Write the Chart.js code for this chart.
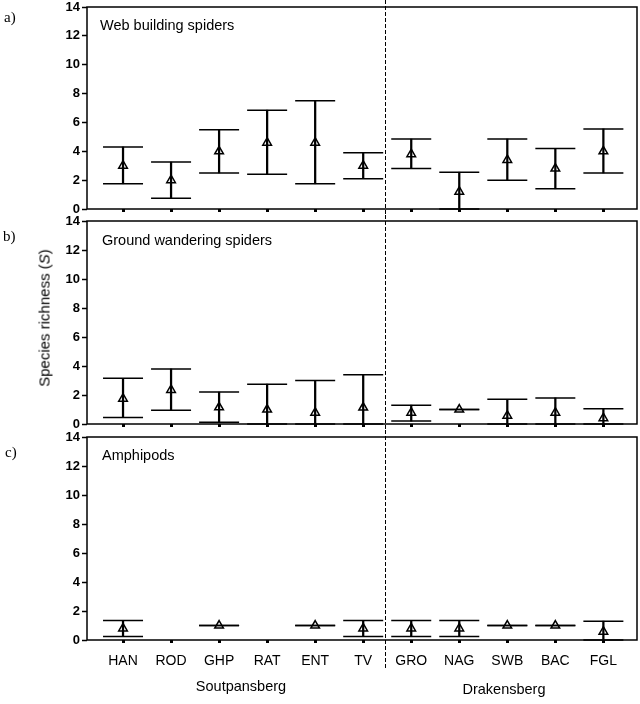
<!DOCTYPE html>
<html><head><meta charset="utf-8">
<script src="https://cdn.jsdelivr.net/npm/chart.js@4.4.1/dist/chart.umd.min.js"></script>
<style>
html,body{margin:0;padding:0;background:#fff;}
#wrap{position:relative;width:640px;height:704px;overflow:hidden;font-family:"Liberation Sans",Arial,sans-serif;color:#000;}
.cv{position:absolute;left:0;width:640px;}
.lbl{position:absolute;white-space:nowrap;line-height:1;}
.ser{font-family:"Liberation Serif","Times New Roman",serif;font-size:15px;}
.ttl{font-size:14.5px;}
</style></head><body>
<div id="wrap">
  <div class="cv" style="top:0;height:215px"><canvas id="c1" width="640" height="215"></canvas></div>
  <div class="cv" style="top:215px;height:215px"><canvas id="c2" width="640" height="215"></canvas></div>
  <div class="cv" style="top:430px;height:274px"><canvas id="c3" width="640" height="274"></canvas></div>
  <div class="lbl ser" style="left:4px;top:9.5px">a)</div>
  <div class="lbl ser" style="left:3px;top:228.5px">b)</div>
  <div class="lbl ser" style="left:5px;top:444.5px">c)</div>
  <div class="lbl ttl" style="left:100px;top:17.5px">Web building spiders</div>
  <div class="lbl ttl" style="left:102px;top:232.5px">Ground wandering spiders</div>
  <div class="lbl ttl" style="left:102px;top:447.5px">Amphipods</div>
  <div class="lbl" style="left:44px;top:318px;font-size:15px;transform:translate(-50%,-50%) rotate(-90deg);">Species richness (<i>S</i>)</div>
  <div class="lbl ttl" style="left:241px;top:686px;transform:translate(-50%,-50%);">Soutpansberg</div>
  <div class="lbl ttl" style="left:504px;top:689px;transform:translate(-50%,-50%);">Drakensberg</div>
</div>
<script>
const categories = ['HAN','ROD','GHP','RAT','ENT','TV','GRO','NAG','SWB','BAC','FGL'];
const yTickValues = [0, 2, 4, 6, 8, 10, 12, 14];

const webMean  = [3.0, 2.0, 4.0, 4.6, 4.6, 3.0, 3.8, 1.2, 3.4, 2.8, 4.0];
const webUpper = [4.3, 3.25, 5.5, 6.85, 7.5, 3.9, 4.85, 2.55, 4.85, 4.2, 5.55];
const webLower = [1.75, 0.75, 2.5, 2.4, 1.75, 2.1, 2.8, 0, 2.0, 1.4, 2.5];

const groundMean  = [1.75, 2.35, 1.15, 1.0, 0.78, 1.13, 0.78, 1.0, 0.57, 0.78, 0.4];
const groundUpper = [3.15, 3.8, 2.2, 2.75, 3.0, 3.4, 1.3, 1.0, 1.7, 1.8, 1.05];
const groundLower = [0.45, 0.95, 0.12, 0, 0, 0, 0.2, 1.0, 0, 0, 0];

const amphMean  = [0.8, null, 1.0, null, 1.0, 0.8, 0.8, 0.8, 1.0, 1.0, 0.57];
const amphUpper = [1.35, null, 1.0, null, 1.0, 1.35, 1.35, 1.35, 1.0, 1.0, 1.3];
const amphLower = [0.25, null, 1.0, null, 1.0, 0.25, 0.25, 0.25, 1.0, 1.0, 0];

const regionDivider = 5.45; // between TV and GRO

const boxPlugin = {
  id: 'box',
  afterDraw(chart) {
    const a = chart.chartArea, ctx = chart.ctx;
    ctx.save();
    ctx.strokeStyle = '#000';
    ctx.lineWidth = 1.5;
    ctx.strokeRect(a.left, a.top, a.right - a.left, a.bottom - a.top);
    ctx.restore();
  }
};
const dividerPlugin = {
  id: 'divider',
  afterDraw(chart, args, opts) {
    const ctx = chart.ctx;
    const x = Math.round(chart.scales.x.getPixelForValue(regionDivider)) + 0.5;
    ctx.save();
    ctx.strokeStyle = '#000';
    ctx.lineWidth = 1;
    ctx.setLineDash([4, 2]);
    ctx.beginPath();
    ctx.moveTo(x, 0);
    ctx.lineTo(x, opts.end != null ? opts.end : chart.height);
    ctx.stroke();
    ctx.restore();
  }
};

function zeroPad(s) {
  s.paddingTop = 0; s.paddingBottom = 0; s.paddingLeft = 0; s.paddingRight = 0;
}

function makeChart(id, mean, upper, lower, cfg) {
  const idx = categories.map((_, i) => i).filter(i => mean[i] !== null);
  const bars = idx.map(i => ({x: i, y: [lower[i], upper[i]]}));
  const caps = idx.flatMap(i => [{x: i, y: upper[i]}, {x: i, y: lower[i]}]);
  const means = idx.map(i => ({x: i, y: mean[i]}));
  return new Chart(document.getElementById(id), {
    type: 'bar',
    data: {
      datasets: [
        {type: 'scatter', data: means, pointStyle: 'triangle', radius: 5,
         borderColor: '#000', backgroundColor: 'rgba(255,255,255,0)', borderWidth: 1.5, clip: false},
        {type: 'scatter', data: caps, pointStyle: 'line', radius: 20,
         borderColor: '#000', borderWidth: 1.5, clip: false},
        {type: 'bar', data: bars, barThickness: 1.6, backgroundColor: '#000', borderWidth: 0}
      ]
    },
    options: {
      responsive: false,
      animation: false,
      events: [],
      layout: {autoPadding: false, padding: {left: 0, right: 3, top: cfg.top, bottom: 0}},
      plugins: {legend: {display: false}, tooltip: {enabled: false}, divider: {end: cfg.dividerEnd}},
      scales: {
        x: {
          type: 'linear', min: -0.75, max: 10.7, bounds: 'data', offset: false,
          afterBuildTicks: s => { s.ticks = categories.map((_, i) => ({value: i})); },
          afterFit: s => { s.height = cfg.xHeight; zeroPad(s); },
          grid: {drawOnChartArea: false, drawTicks: true, tickLength: 3, tickWidth: 3, color: '#000', offset: false},
          border: {display: false},
          ticks: {
            display: cfg.showLabels,
            padding: 10,
            color: '#000',
            font: {family: '"Liberation Sans", Arial, sans-serif', size: 14},
            callback: v => categories[v]
          }
        },
        y: {
          type: 'linear', min: 0, max: 14,
          afterBuildTicks: s => { s.ticks = yTickValues.map(v => ({value: v})); },
          afterFit: s => { s.width = 87; zeroPad(s); },
          grid: {drawOnChartArea: false, drawTicks: true, tickLength: 5, tickWidth: 1.5, color: '#000'},
          border: {display: false},
          ticks: {
            padding: 2,
            color: '#000',
            font: {family: '"Liberation Sans", Arial, sans-serif', size: 13, weight: 'bold'}
          }
        }
      }
    },
    plugins: [boxPlugin, dividerPlugin]
  });
}

makeChart('c1', webMean, webUpper, webLower, {top: 7, xHeight: 6, showLabels: false});
makeChart('c2', groundMean, groundUpper, groundLower, {top: 6, xHeight: 6, showLabels: false});
makeChart('c3', amphMean, amphUpper, amphLower, {top: 7, xHeight: 64, showLabels: true, dividerEnd: 238});
</script>
</body></html>
